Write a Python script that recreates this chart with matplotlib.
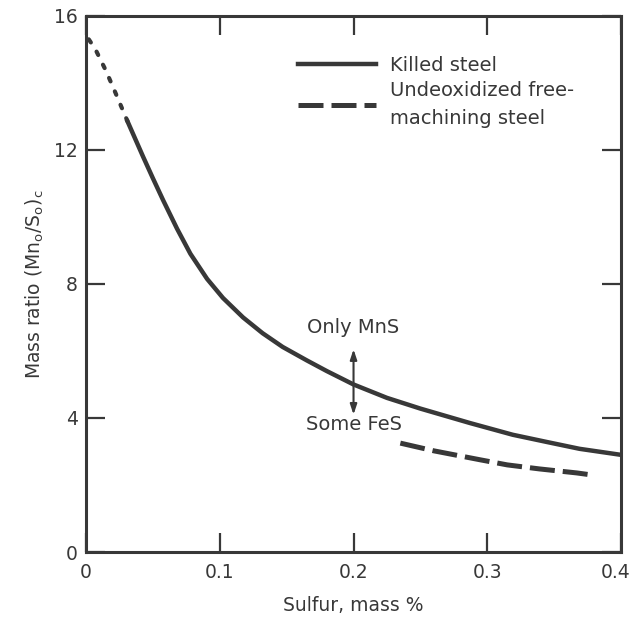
import numpy as np
import matplotlib
matplotlib.use("Agg")
import matplotlib.pyplot as plt
import matplotlib.transforms as mtransforms

plt.rcParams['font.family'] = ['DejaVu Sans']
plt.rcParams['mathtext.fontset'] = 'dejavusans'

INK = '#383838'

# Killed steel (solid) and its dotted extrapolation towards zero sulfur
killed_x = [0.031, 0.0426, 0.050, 0.0576, 0.068, 0.078, 0.0905, 0.1024, 0.1174, 0.132,
            0.147, 0.165, 0.180, 0.200, 0.225, 0.250, 0.287, 0.319, 0.345, 0.369, 0.400]
killed_y = [12.85, 11.8, 11.15, 10.5, 9.65, 8.9, 8.15, 7.58, 7.0, 6.53,
            6.12, 5.72, 5.4, 5.0, 4.6, 4.28, 3.85, 3.5, 3.28, 3.08, 2.9]
dot_x = [0.002, 0.007, 0.015, 0.022, 0.031]
dot_y = [15.3, 15.0, 14.35, 13.7, 12.85]

# Undeoxidized free-machining steel (dashed)
undeox_x = [0.235, 0.260, 0.295, 0.315, 0.339, 0.367, 0.378]
undeox_y = [3.25, 3.02, 2.75, 2.60, 2.48, 2.36, 2.30]

xticks = [0, 0.1, 0.2, 0.3, 0.4]
xticklabels = ['0', '0.1', '0.2', '0.3', '0.4']
yticks = [0, 4, 8, 12, 16]

fig = plt.figure(figsize=(6.33, 6.22), dpi=100)
ax = fig.add_axes([0.136, 0.1125, 0.845, 0.862])

ax.plot(dot_x, dot_y, color=INK, lw=3.0, linestyle=(0, (0.9, 2.6)),
        solid_capstyle='round', dash_capstyle='round')
ax.plot(killed_x, killed_y, color=INK, lw=3.2, label='Killed steel')
ax.plot(undeox_x, undeox_y, color=INK, lw=3.6, linestyle=(0, (5, 1.6)),
        label='Undeoxidized free-\nmachining steel')

# MnS / FeS boundary arrows
for tip in (6.05, 4.1):
    ax.annotate('', xy=(0.2, tip), xytext=(0.2, 5.0),
                arrowprops=dict(arrowstyle='-|>,head_length=0.6,head_width=0.2',
                                color=INK, lw=1.5, shrinkA=0, shrinkB=0))
ax.text(0.2, 6.7, 'Only MnS', ha='center', va='center', fontsize=14, color=INK)
ax.text(0.2, 3.8, 'Some FeS', ha='center', va='center', fontsize=14, color=INK)

ax.set_xlim(0, 0.4)
ax.set_ylim(0, 16)
ax.set_xticks(xticks)
ax.set_xticklabels(xticklabels)
ax.set_yticks(yticks)
ax.tick_params(direction='in', length=14, width=1.6, color=INK, labelcolor=INK,
               labelsize=13.5, top=True, right=True)
ax.tick_params(axis='x', pad=8)
ax.tick_params(axis='y', pad=6)
for s in ax.spines.values():
    s.set_linewidth(2.2)
    s.set_color(INK)

# last x label sits right at the figure edge, nudge it in a little
last = ax.get_xticklabels()[-1]
last.set_transform(last.get_transform() +
                   mtransforms.ScaledTranslation(-4 / 72, 0, fig.dpi_scale_trans))

ax.set_xlabel('Sulfur, mass %', fontsize=13.5, color=INK, labelpad=10)
ax.set_ylabel(r'Mass ratio (Mn$_{\mathregular{o}}$/S$_{\mathregular{o}}$)$_{\mathregular{c}}$',
              fontsize=13.5, color=INK, labelpad=6)

leg = ax.legend(loc='upper left', bbox_to_anchor=(0.396, 0.925), frameon=False,
                fontsize=14, handlelength=4.0, handletextpad=0.75, labelspacing=0.3,
                borderpad=0, borderaxespad=0, labelcolor=INK)
for t in leg.get_texts():
    t.set_linespacing(1.6)

fig.savefig('out.png', dpi=100)
